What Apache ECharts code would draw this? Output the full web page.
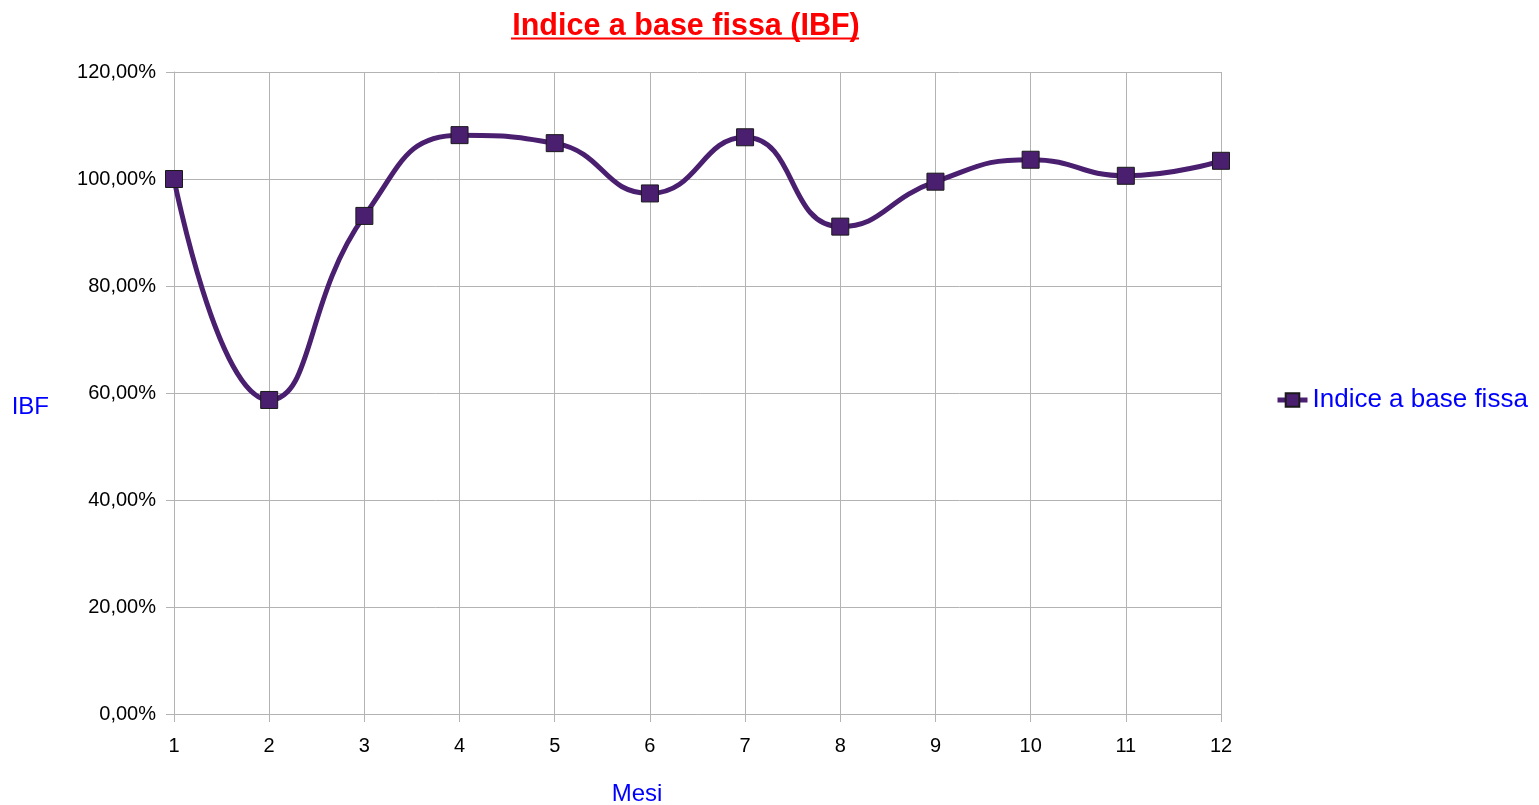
<!DOCTYPE html>
<html>
<head>
<meta charset="utf-8">
<script src="https://cdn.jsdelivr.net/npm/echarts@6/dist/echarts.min.js"></script>
<style>
  html, body { margin: 0; padding: 0; background: #fff; }
  #chart { width: 1539px; height: 805px; }
</style>
</head>
<body>
<div id="chart"></div>
<script>
// dati
const mesi = ['1', '2', '3', '4', '5', '6', '7', '8', '9', '10', '11', '12']
const ibf = [100, 58.7, 93.1, 108.2, 106.7, 97.3, 107.8, 91.1, 99.5, 103.6, 100.6, 103.4]
const seriesName = 'Indice a base fissa'

const font = '"Liberation Sans", Arial, sans-serif'
const gridColor = '#b3b3b3'
const lineColor = '#4b1f70'

const chart = echarts.init(document.getElementById('chart'))

chart.setOption({
  animation: false,
  title: {
    text: 'Indice a base fissa (IBF)',
    left: 681,
    textAlign: 'center',
    top: 6,
    textStyle: { color: '#ff0000', fontFamily: font, fontSize: 30.5, fontWeight: 'bold' }
  },
  // sottolineatura del titolo
  graphic: [{
    type: 'line',
    shape: { x1: 511, y1: 38.5, x2: 859, y2: 38.5 },
    style: { stroke: '#ff0000', lineWidth: 2 }
  }],
  legend: {
    data: [seriesName],
    left: 1270,
    top: 382,
    itemWidth: 30,
    itemHeight: 17,
    lineStyle: { width: 5 },
    textStyle: { color: '#0000ff', fontFamily: font, fontSize: 26 }
  },
  grid: { left: 174, right: 318, top: 72, bottom: 91, outerBoundsMode: 'none' },
  xAxis: {
    type: 'category',
    data: mesi,
    boundaryGap: false,
    name: 'Mesi',
    nameLocation: 'middle',
    nameGap: 68,
    nameTextStyle: { color: '#0000ff', fontFamily: font, fontSize: 24, padding: [0, 121, 0, 0] },
    axisLine: { lineStyle: { color: gridColor } },
    axisTick: { show: true, length: 8, lineStyle: { color: gridColor }, alignWithLabel: true },
    axisLabel: { color: '#000', fontFamily: font, fontSize: 20, margin: 22 },
    splitLine: { show: true, lineStyle: { color: gridColor } }
  },
  yAxis: {
    type: 'value',
    min: 0,
    max: 120,
    interval: 20,
    name: 'IBF',
    nameLocation: 'middle',
    nameRotate: 0,
    nameGap: 125,
    nameTextStyle: { color: '#0000ff', fontFamily: font, fontSize: 24, verticalAlign: 'top', padding: [2, 0, 0, 0] },
    axisLine: { show: true, lineStyle: { color: gridColor } },
    axisTick: { show: true, length: 8, lineStyle: { color: gridColor } },
    axisLabel: {
      color: '#000', fontFamily: font, fontSize: 20, margin: 18,
      formatter: v => v.toFixed(2).replace('.', ',') + '%'
    },
    splitLine: { show: true, lineStyle: { color: gridColor } }
  },
  series: [{
    name: seriesName,
    type: 'line',
    data: ibf,
    smooth: 0.5,
    symbol: 'rect',
    symbolSize: 17,
    lineStyle: { color: lineColor, width: 5 },
    itemStyle: { color: lineColor, borderColor: '#1a1a1a', borderWidth: 1 }
  }]
})
</script>
</body>
</html>
